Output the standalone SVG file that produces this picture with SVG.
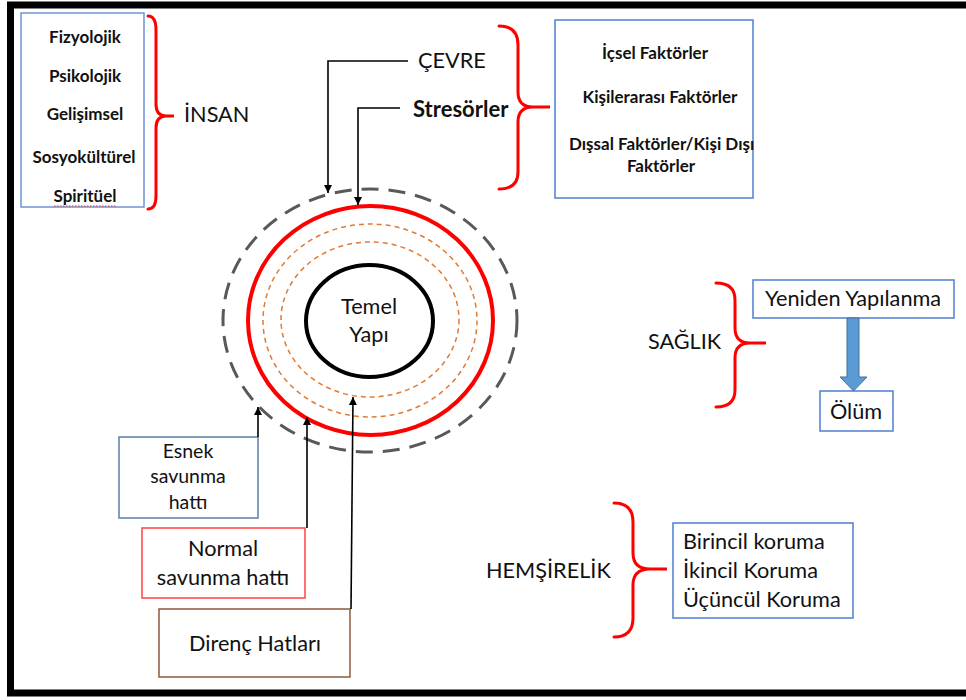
<svg xmlns="http://www.w3.org/2000/svg" width="966" height="700" viewBox="0 0 966 700">
<defs>
<style>
text{font-family:Lato,"Liberation Sans",sans-serif;fill:#111}
.b{font-weight:bold}
.lst{font-size:17px;font-weight:bold;text-anchor:middle}
.lbl{font-size:21.7px}
.c{text-anchor:middle}
.brace{fill:none;stroke:#ff0000;stroke-width:3;stroke-linecap:round}
.conn{fill:none;stroke:#000;stroke-width:1.6}
.box{fill:#fff;stroke-width:1.5}
</style>
<marker id="ah" viewBox="0 0 10 10" refX="10" refY="5" markerWidth="8" markerHeight="8" orient="auto" markerUnits="userSpaceOnUse">
<path d="M0,0 L10,5 L0,10 z" fill="#000"/>
</marker>
</defs>
<rect x="0" y="0" width="966" height="700" fill="#fff"/>
<rect x="10.5" y="5" width="980" height="688" fill="none" stroke="#000" stroke-width="7"/>

<g id="insan">
<rect class="box" x="21" y="13" width="123" height="194" stroke="#6f93d3"/>
<text class="lst" x="85" y="43">Fizyolojik</text>
<text class="lst" x="85" y="82">Psikolojik</text>
<text class="lst" x="85" y="120">Gelişimsel</text>
<text class="lst" x="84" y="163">Sosyokültürel</text>
<text class="lst" x="85" y="202">Spiritüel</text>
<path d="M54,206 h62" stroke="#e03030" stroke-width="1" stroke-dasharray="1.5,1.5"/>
<path class="brace" d="M148,16 Q156,16 156,30 L156,104 Q156,116 166,116 L174,116 L166,116 Q156,116 156,128 L156,196 Q156,209 148,209"/>
<text class="lbl" x="184" y="122">İNSAN</text>
</g>

<g id="cevre">
<text class="lbl" x="418" y="68">ÇEVRE</text>
<text class="b" x="413" y="117" font-size="22">Stresörler</text>
<path class="brace" d="M499,26 Q518,26 518,45 L518,92 Q518,107 533,107 L550,107 L533,107 Q518,107 518,122 L518,172 Q518,189 499,189"/>
</g>

<g id="faktorler">
<rect class="box" x="555" y="20" width="198" height="178" stroke="#4f7fd0"/>
<text class="lst" x="655" y="59">İçsel Faktörler</text>
<text class="lst" x="660" y="103">Kişilerarası Faktörler</text>
<text class="b" x="569" y="150" font-size="17">Dışsal Faktörler/Kişi Dışı</text>
<text class="lst" x="661" y="172">Faktörler</text>
</g>

<g id="temel">
<ellipse cx="370" cy="320.5" rx="147" ry="131.5" fill="none" stroke="#595959" stroke-width="3" stroke-dasharray="17,10"/>
<ellipse cx="370.5" cy="320.5" rx="122.5" ry="114.5" fill="none" stroke="#ff0000" stroke-width="4"/>
<ellipse cx="370" cy="320.5" rx="107" ry="96.5" fill="none" stroke="#e07a35" stroke-width="1.5" stroke-dasharray="5,4"/>
<ellipse cx="370" cy="319.5" rx="89" ry="77.5" fill="none" stroke="#e07a35" stroke-width="1.5" stroke-dasharray="5,4"/>
<ellipse cx="369.5" cy="321" rx="63.5" ry="56" fill="#fff" stroke="#000" stroke-width="4"/>
<text class="lbl c" x="369" y="314">Temel</text>
<text class="lbl c" x="369" y="342">Yapı</text>
</g>

<g id="esnek">
<rect class="box" x="119" y="437" width="139" height="81" stroke="#5a7fa8"/>
<text class="c" x="188" y="458" font-size="19.5">Esnek</text>
<text class="c" x="188" y="483" font-size="19.5">savunma</text>
<text class="c" x="188" y="509" font-size="19.5">hattı</text>
</g>

<g id="normal">
<rect class="box" x="142" y="528" width="163" height="70" stroke="#ff4040"/>
<text class="lbl c" x="223" y="556">Normal</text>
<text class="lbl c" x="223" y="585">savunma hattı</text>
</g>

<g id="direnc">
<rect class="box" x="159" y="609" width="191" height="68" stroke="#8c5a3c"/>
<text class="lbl c" x="255" y="651">Direnç Hatları</text>
</g>

<g id="saglik">
<text class="lbl" x="648" y="349">SAĞLIK</text>
<path class="brace" d="M716,283 Q735,283 735,300 L735,328 Q735,343 750,343 L766,343 L750,343 Q735,343 735,358 L735,390 Q735,407 716,407"/>
</g>

<g id="yeniden">
<rect class="box" x="753" y="280" width="201" height="38" stroke="#4f7fd0"/>
<text class="lbl c" x="853" y="306">Yeniden Yapılanma</text>
</g>

<g id="olum">
<rect class="box" x="820" y="391" width="73" height="40" stroke="#4f7fd0"/>
<text class="lbl c" x="856" y="419">Ölüm</text>
</g>

<g id="hemsirelik">
<text class="lbl" x="486" y="578">HEMŞİRELİK</text>
<path class="brace" d="M614,503 Q633,503 633,522 L633,553 Q633,569 650,569 L667,569 L650,569 Q633,569 633,585 L633,618 Q633,637 614,637"/>
</g>

<g id="koruma">
<rect class="box" x="673" y="523" width="180" height="95" stroke="#4f7fd0"/>
<text class="lbl" x="683" y="549">Birincil koruma</text>
<text class="lbl" x="683" y="578">İkincil Koruma</text>
<text class="lbl" x="683" y="607">Üçüncül Koruma</text>
</g>

<g id="connectors">
<polyline class="conn" points="408,61 328,61 328,193" marker-end="url(#ah)"/>
<polyline class="conn" points="400,108 358,108 358,205" marker-end="url(#ah)"/>
<line class="conn" x1="258" y1="437" x2="258" y2="407" marker-end="url(#ah)"/>
<line class="conn" x1="307" y1="528" x2="307" y2="417" marker-end="url(#ah)"/>
<line class="conn" x1="351" y1="609" x2="353" y2="397" marker-end="url(#ah)"/>
<polygon points="847,318 859,318 859,377 867,377 853.5,391 840,377 847,377" fill="#5b9bd5" stroke="#41719c" stroke-width="1"/>
</g>
</svg>
